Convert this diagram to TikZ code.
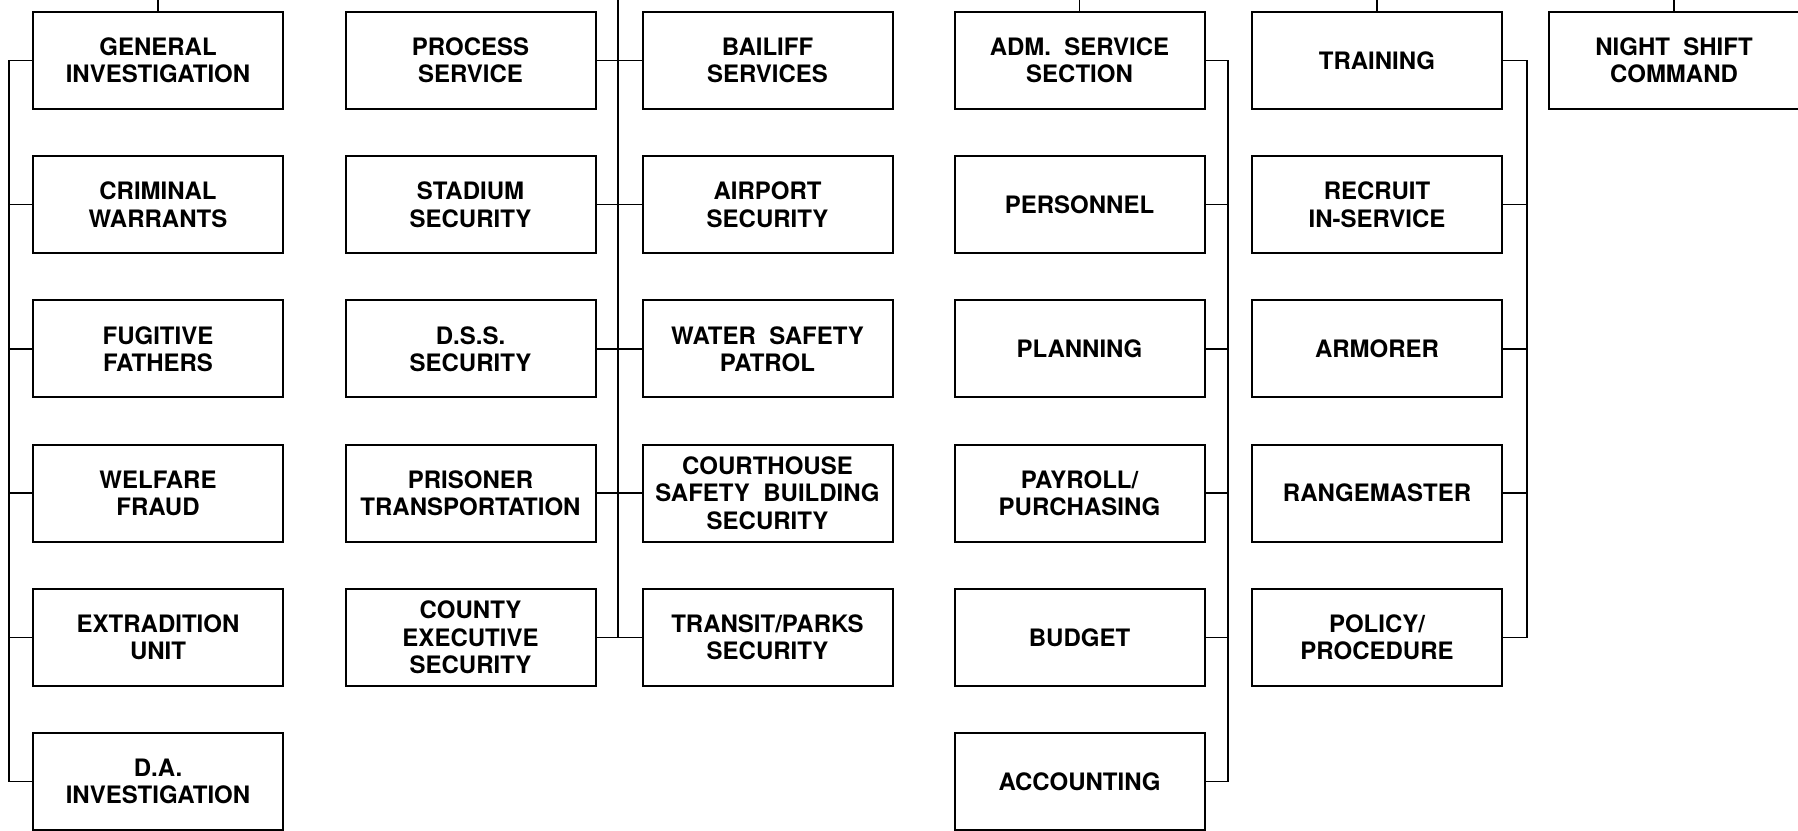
\documentclass[tikz,border=0pt]{standalone}
\usepackage{fontspec}
\setmainfont{TeX Gyre Heros}
\usetikzlibrary{positioning}

\begin{document}
\begin{tikzpicture}[x=0.5pt,y=0.5pt,yscale=-1,xscale=1,
  unit/.style={draw, line width=1pt, minimum width=125pt, minimum height=48.5pt,
    inner sep=0pt, align=center, font=\fontsize{12}{13.6}\selectfont\bfseries},
  link/.style={line width=0.75pt}]
%set diagram to the page size
\useasboundingbox (0,0) rectangle (1798,830);

%Coordinates for the upper edge and the vertical trunk lines
\coordinate (top) at (0,0);
\coordinate (trunkA) at (9,0);
\coordinate (trunkB) at (618,0);
\coordinate (trunkC) at (1228,0);
\coordinate (trunkD) at (1527,0);

% Column 1
\node [unit] (gi) at (158,60.5) {GENERAL\\INVESTIGATION};
\node [unit] (cw) at (158,204.7) {CRIMINAL\\WARRANTS};
\node [unit] (ff) at (158,348.9) {FUGITIVE\\FATHERS};
\node [unit] (wf) at (158,493.1) {WELFARE\\FRAUD};
\node [unit] (eu) at (158,637.3) {EXTRADITION\\UNIT};
\node [unit] (dai) at (158,781.5) {D.A.\\INVESTIGATION};

% Column 2
\node [unit] (ps) at (470.5,60.5) {PROCESS\\SERVICE};
\node [unit] (ss) at (470.5,204.7) {STADIUM\\SECURITY};
\node [unit] (dss) at (470.5,348.9) {D.S.S.\\SECURITY};
\node [unit] (pt) at (470.5,493.1) {PRISONER\\TRANSPORTATION};
\node [unit] (ces) at (470.5,637.3) {COUNTY\\EXECUTIVE\\SECURITY};

% Column 3
\node [unit] (bs) at (767.5,60.5) {BAILIFF\\SERVICES};
\node [unit] (as) at (767.5,204.7) {AIRPORT\\SECURITY};
\node [unit] (wsp) at (767.5,348.9) {WATER\ \ SAFETY\\PATROL};
\node [unit] (chs) at (767.5,493.1) {COURTHOUSE\\SAFETY\ \ BUILDING\\SECURITY};
\node [unit] (tps) at (767.5,637.3) {TRANSIT/PARKS\\SECURITY};

% Column 4
\node [unit] (adm) at (1079.5,60.5) {ADM.\ \ SERVICE\\SECTION};
\node [unit] (per) at (1079.5,204.7) {PERSONNEL};
\node [unit] (pla) at (1079.5,348.9) {PLANNING};
\node [unit] (pay) at (1079.5,493.1) {PAYROLL/\\PURCHASING};
\node [unit] (bud) at (1079.5,637.3) {BUDGET};
\node [unit] (acc) at (1079.5,781.5) {ACCOUNTING};

% Column 5
\node [unit] (trn) at (1377,60.5) {TRAINING};
\node [unit] (rec) at (1377,204.7) {RECRUIT\\IN-SERVICE};
\node [unit] (arm) at (1377,348.9) {ARMORER};
\node [unit] (rng) at (1377,493.1) {RANGEMASTER};
\node [unit] (pol) at (1377,637.3) {POLICY/\\PROCEDURE};

% Column 6
\node [unit] (nsc) at (1674,60.5) {NIGHT\ \ SHIFT\\COMMAND};

%Lines up to the upper edge
\draw [link] (gi.north) -- (gi.north |- top);
\draw [link] (adm.north) -- (adm.north |- top);
\draw [link] (trn.north) -- (trn.north |- top);
\draw [link] (nsc.north) -- (nsc.north |- top);

%Trunk of column 1
\draw [link] (gi.west) -- (gi.west -| trunkA) |- (dai.west);
\draw [link] (cw.west) -- (cw.west -| trunkA);
\draw [link] (ff.west) -- (ff.west -| trunkA);
\draw [link] (wf.west) -- (wf.west -| trunkA);
\draw [link] (eu.west) -- (eu.west -| trunkA);

%Trunk between columns 2 and 3
\draw [link] (trunkB) -- (trunkB |- ces.east);
\draw [link] (ps.east) -- (bs.west);
\draw [link] (ss.east) -- (as.west);
\draw [link] (dss.east) -- (wsp.west);
\draw [link] (pt.east) -- (chs.west);
\draw [link] (ces.east) -- (tps.west);

%Trunk of column 4
\draw [link] (adm.east) -- (adm.east -| trunkC) |- (acc.east);
\draw [link] (per.east) -- (per.east -| trunkC);
\draw [link] (pla.east) -- (pla.east -| trunkC);
\draw [link] (pay.east) -- (pay.east -| trunkC);
\draw [link] (bud.east) -- (bud.east -| trunkC);

%Trunk of column 5
\draw [link] (trn.east) -- (trn.east -| trunkD) |- (pol.east);
\draw [link] (rec.east) -- (rec.east -| trunkD);
\draw [link] (arm.east) -- (arm.east -| trunkD);
\draw [link] (rng.east) -- (rng.east -| trunkD);

\end{tikzpicture}
\end{document}
